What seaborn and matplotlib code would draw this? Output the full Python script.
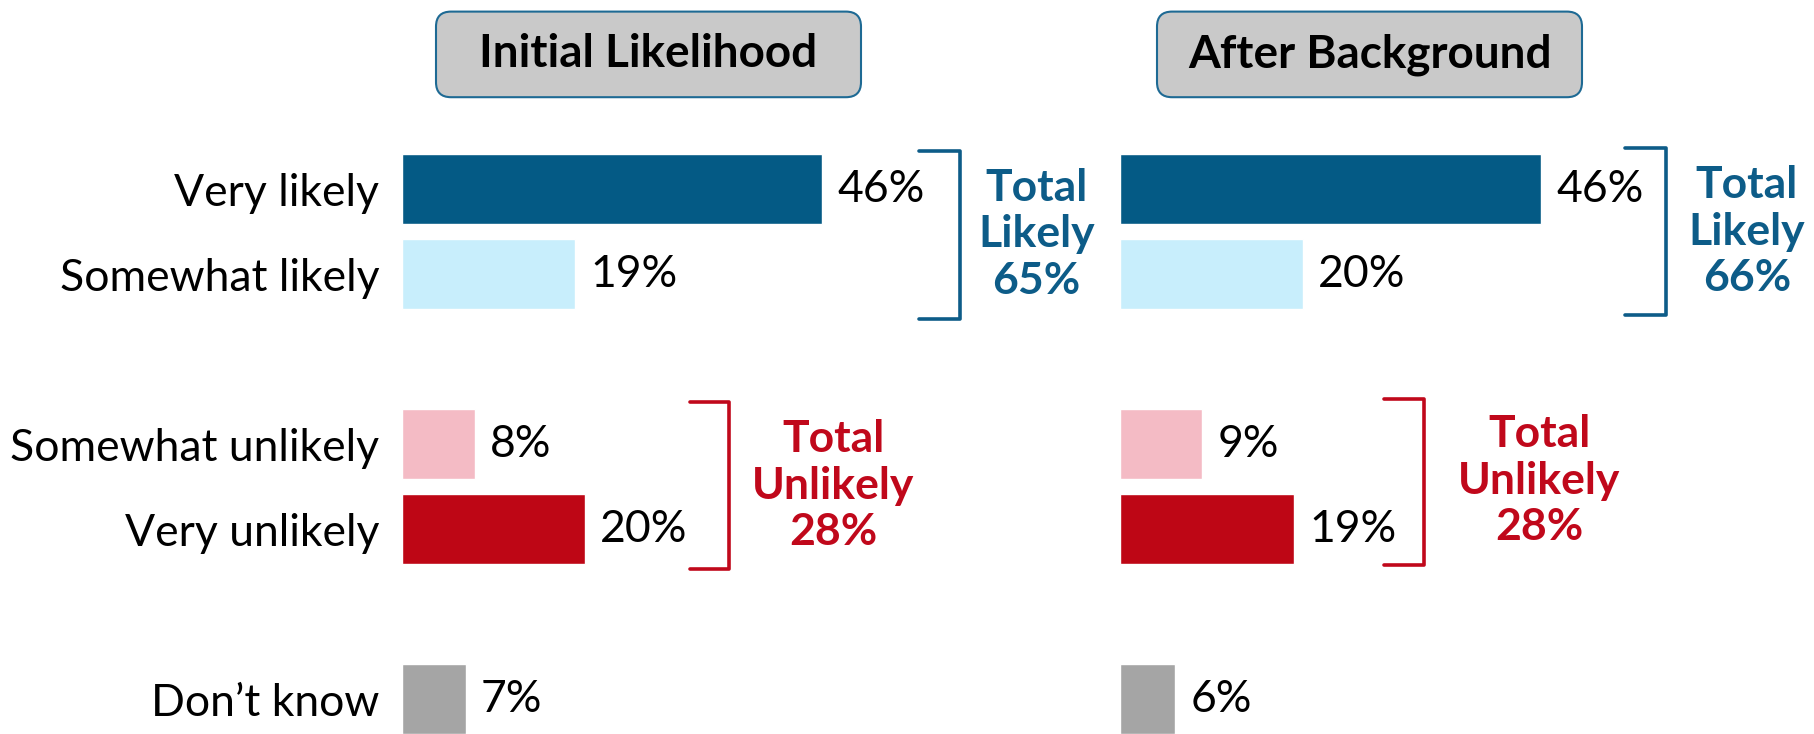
"""
Likelihood before / after background - horizontal bars
"""

import numpy as np
import pandas as pd
import matplotlib.pyplot as plt
import seaborn as sns
from matplotlib.patches import FancyBboxPatch

# Data
categories = ["Very likely", "Somewhat likely", "Somewhat unlikely", "Very unlikely", "Don\u2019t know"]
initial_pct = [46, 19, 8, 20, 7]
after_pct = [46, 20, 9, 19, 6]
panel_titles = ["Initial Likelihood", "After Background"]
total_likely = [65, 66]
total_unlikely = [28, 28]

# slots, with two empty rows between groups
order = ["Very likely", "Somewhat likely", "_gap1", "Somewhat unlikely", "Very unlikely", "_gap2", "Don\u2019t know"]
bar_colors = ["#045A85", "#C8EEFC", "#F4BBC5", "#BE0615", "#A5A5A5"]
blue_txt = "#0D5C88"
red_txt = "#C0081B"

sns.set_style("white")
plt.rcParams['font.family'] = ['Lato', 'DejaVu Sans']

FS = 32

fig = plt.figure(figsize=(18.14, 7.34), dpi=100)

W, H = 1814, 734
ax_left = fig.add_axes([401.5 / W, -0.0104, 640.5 / W, 0.8106])
ax_right = fig.add_axes([1120 / W, -0.0104, 640.5 / W, 0.8106])

# bracket / total positions per panel (data coords)
layout = [
    dict(b_like=(56.6, 61.0, -0.45, 1.53), t_like=(69.4, 0.53),
         b_unl=(31.5, 35.8, 2.51, 4.47), t_unl=(47.2, 3.49)),
    dict(b_like=(55.2, 59.7, -0.48, 1.48), t_like=(68.5, 0.50),
         b_unl=(28.8, 33.2, 2.47, 4.42), t_unl=(45.8, 3.43)),
]


def bracket(ax, x0, x1, y0, y1, color):
    ax.plot([x0, x1, x1, x0], [y0, y0, y1, y1], color=color, lw=2.6,
            solid_joinstyle='round', solid_capstyle='round', clip_on=False)


for i, (ax, vals) in enumerate(zip([ax_left, ax_right], [initial_pct, after_pct])):
    df = pd.DataFrame({"cat": categories, "pct": vals})
    sns.barplot(data=df, x="pct", y="cat", hue="cat", order=order, hue_order=categories,
                palette=bar_colors, saturation=1, width=0.83, legend=False, ax=ax)
    for c in ax.containers:
        ax.bar_label(c, fmt="{:.0f}%", padding=11, fontsize=FS, color="black")

    ax.set_xlim(0, 70)
    ax.set_ylim(6.5, -0.5)
    ax.set_xlabel("")
    ax.set_ylabel("")
    ax.set_xticks([])
    sns.despine(ax=ax, left=True, bottom=True)
    ax.patch.set_alpha(0)
    if i == 0:
        ax.set_yticks(range(len(order)))
        ax.set_yticklabels(["" if o.startswith("_") else o for o in order], fontsize=FS, color="black")
        ax.tick_params(axis="y", length=0, pad=16)
    else:
        ax.set_yticks([])

    L = layout[i]
    bracket(ax, *L["b_like"], blue_txt)
    bracket(ax, *L["b_unl"], red_txt)
    ax.text(*L["t_like"], f"Total\nLikely\n{total_likely[i]}%", ha="center", va="center",
            fontsize=FS, fontweight="bold", color=blue_txt, linespacing=1.2, clip_on=False)
    ax.text(*L["t_unl"], f"Total\nUnlikely\n{total_unlikely[i]}%", ha="center", va="center",
            fontsize=FS, fontweight="bold", color=red_txt, linespacing=1.2, clip_on=False)

# title boxes (inches)
for x0, title in zip([4.36, 11.57], panel_titles):
    box = FancyBboxPatch((x0, 6.368), 4.25, 0.856, boxstyle="round,pad=0,rounding_size=0.15",
                         transform=fig.dpi_scale_trans, facecolor="#C9C9C9",
                         edgecolor="#1E6A94", linewidth=1.5)
    fig.add_artist(box)
    fig.text(x0 + 4.25 / 2, 6.368 + 0.856 / 2, title, transform=fig.dpi_scale_trans,
             ha="center", va="center", fontsize=33, fontweight="bold", color="black")

plt.savefig("out.png", dpi=100)
plt.close()
